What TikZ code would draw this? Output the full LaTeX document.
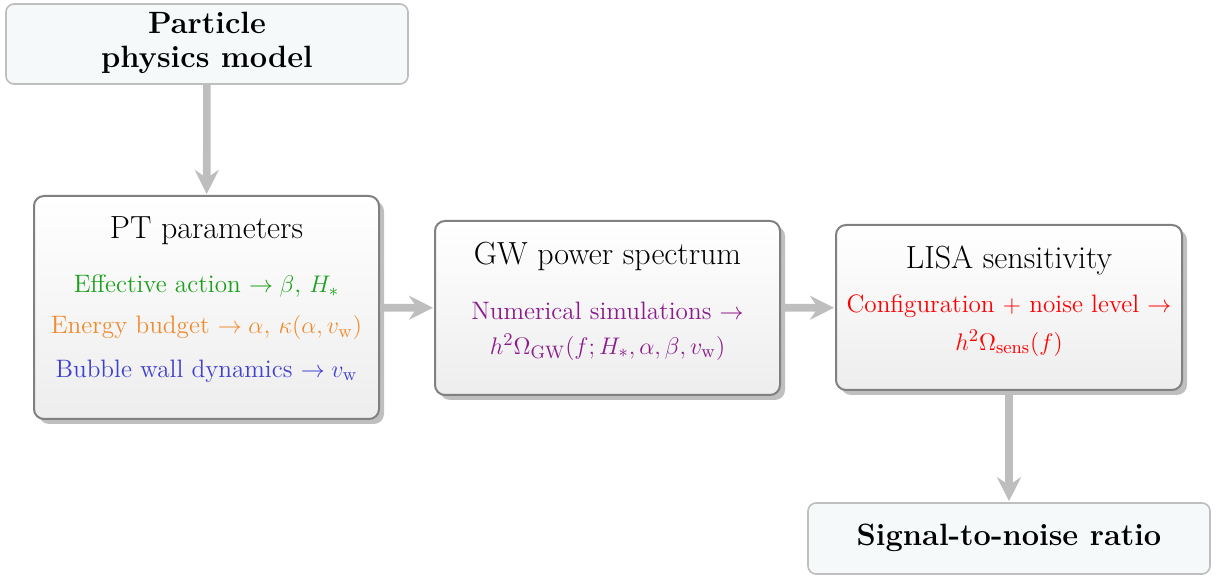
\documentclass[tikz,border=0pt]{standalone}
\usetikzlibrary{shadows,arrows.meta}
\definecolor{cgreen}{RGB}{26,160,26}
\definecolor{corange}{RGB}{240,140,48}
\definecolor{cblue}{RGB}{64,64,208}
\definecolor{cpurple}{RGB}{140,26,140}
\definecolor{cred}{RGB}{255,0,0}
\definecolor{endfill}{RGB}{245,249,250}
\definecolor{endborder}{RGB}{190,190,190}
\definecolor{flowgray}{RGB}{190,190,190}
\tikzset{
  mainbox/.style={draw=black!50, line width=1pt, rounded corners=5pt,
    top color=white, bottom color=black!7, inner sep=0pt,
    drop shadow={shadow xshift=2.5pt, shadow yshift=-2.5pt, fill=black!25, opacity=1}},
  endbox/.style={draw=endborder, line width=0.8pt, rounded corners=4pt,
    fill=endfill, inner sep=0pt},
  title/.style={font=\fontsize{16}{19}\selectfont, inner sep=0pt},
  body/.style={font=\fontsize{12.6}{15}\selectfont, inner sep=0pt},
  endtext/.style={font=\fontsize{15.4}{18}\selectfont\bfseries, inner sep=0pt, align=center},
  flow/.style={draw=flowgray, line width=3.8pt, -{Stealth[length=12pt,width=12pt,inset=4pt]}, shorten >=0.5pt}
}
\begin{document}
\begin{tikzpicture}[x=0.5pt,y=-0.5pt]
\useasboundingbox (0,0) rectangle (1221,576);
% boxes
\node[endbox, minimum width=201pt, minimum height=40pt] (pp) at (207,44) {};
\node[mainbox, minimum width=172.5pt, minimum height=111.5pt] (pt) at (206.5,307.5) {};
\node[mainbox, minimum width=172.5pt, minimum height=87pt] (gw) at (607.5,308) {};
\node[mainbox, minimum width=173pt, minimum height=82.5pt] (lisa) at (1009,307.5) {};
\node[endbox, minimum width=201pt, minimum height=35.5pt] (snr) at (1009,538.5) {};
% texts
\node[endtext] (ppt1) at (207,23) {Particle};
\node[endtext] (ppt2) at (207,60) {physics model};
\node[title] (ptt) at (206.5,231) {PT parameters};
\node[body, text=cgreen] (pt1) at (206.5,286) {Effective action $\to\beta$, $H_*$};
\node[body, text=corange] (pt2) at (206.5,328) {Energy budget $\to\alpha$, $\kappa(\alpha,v_{\mathrm{w}})$};
\node[body, text=cblue] (pt3) at (206.5,371) {Bubble wall dynamics $\to v_{\mathrm{w}}$};
\node[title] (gwt) at (607.5,256) {GW power spectrum};
\node[body, text=cpurple] (gw1) at (607.5,311) {Numerical simulations $\to$};
\node[body, text=cpurple] (gw2) at (607.5,347) {$h^2\Omega_{\mathrm{GW}}(f;H_*,\alpha,\beta,v_{\mathrm{w}})$};
\node[title] (lisat) at (1009,260) {LISA sensitivity};
\node[body, text=cred] (lisa1) at (1009,306) {Configuration $+$ noise level $\to$};
\node[body, text=cred] (lisa2) at (1009,343) {$h^2\Omega_{\mathrm{sens}}(f)$};
\node[endtext] (snrt) at (1009,538) {Signal-to-noise ratio};
% connectors
\draw[flow] (pp) -- (pt);
\draw[flow] (pt) -- (gw);
\draw[flow] (gw) -- (lisa);
\draw[flow] (lisa) -- (snr);
\end{tikzpicture}
\end{document}
